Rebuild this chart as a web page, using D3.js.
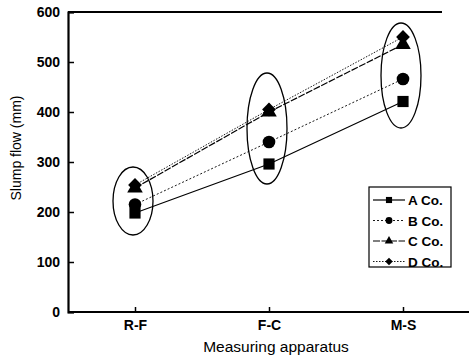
<!DOCTYPE html>
<html><head><meta charset="utf-8">
<script src="https://cdn.jsdelivr.net/npm/d3@7"></script>
<style>body{margin:0;background:#fff}svg{display:block}text{font-family:"Liberation Sans",Arial,sans-serif;fill:#000}</style>
</head><body><svg id="c" width="469" height="357"></svg>
<script>
const categories = ["R-F", "F-C", "M-S"];
const seriesNames = ["A Co.", "B Co.", "C Co.", "D Co."];
const valuesA = [198, 296, 421];
const valuesB = [215, 340, 466];
const valuesC = [248, 400, 535];
const valuesD = [254, 405, 550];
const yTicks = [0, 100, 200, 300, 400, 500, 600];
// ellipse extents (data units) enclosing each group
const groupLow = [154, 256, 368];
const groupHigh = [290, 478, 578];

const svg = d3.select("#c");
const x = d3.scalePoint().domain(categories).range([68, 470]).padding(0.5);
const y = d3.scaleLinear().domain([0, 600]).range([312, 12]);

const diamond = {draw(ctx, size) { const r = Math.sqrt(size / 2); ctx.moveTo(0, -r); ctx.lineTo(r, 0); ctx.lineTo(0, r); ctx.lineTo(-r, 0); ctx.closePath(); }};
const series = [
  {name: seriesNames[0], vals: valuesA, sym: d3.symbolSquare, size: 125, dash: null, w: 1.2},
  {name: seriesNames[1], vals: valuesB, sym: d3.symbolCircle, size: 125, dash: "2,2", w: 0.9},
  {name: seriesNames[2], vals: valuesC, sym: d3.symbolTriangle, size: 105, dash: "7,1.5", w: 1.2},
  {name: seriesNames[3], vals: valuesD, sym: diamond, size: 95, dash: "1.5,1.5", w: 0.9}
];

// frame
svg.append("line").attr("x1", 68).attr("x2", 442).attr("y1", y(600)).attr("y2", y(600)).attr("stroke", "#000").attr("stroke-width", 2);
const ya = svg.append("g").attr("transform", "translate(68,0)")
  .call(d3.axisLeft(y).tickValues(yTicks).tickSize(-6).tickPadding(8));
ya.select(".domain").attr("stroke-width", 2.2);
ya.selectAll(".tick line").attr("stroke-width", 1.5);
ya.selectAll(".tick text").attr("font-size", 14).attr("font-weight", "bold").attr("font-family", "Liberation Sans, Arial");
const xa = svg.append("g").attr("transform", "translate(0,312)")
  .call(d3.axisBottom(x).tickSize(-5).tickPadding(8));
xa.select(".domain").attr("d", "M68,0H469").attr("stroke-width", 2.2);
xa.selectAll(".tick line").attr("stroke-width", 1.5);
xa.selectAll(".tick text").attr("font-size", 14).attr("font-weight", "bold").attr("font-family", "Liberation Sans, Arial");

svg.append("text").attr("transform", "translate(21,148) rotate(-90)").attr("text-anchor", "middle")
  .attr("font-size", 14).text("Slump flow (mm)");
svg.append("text").attr("x", 276).attr("y", 352).attr("text-anchor", "middle")
  .attr("font-size", 15.5).text("Measuring apparatus");

// ellipses
categories.forEach((c, i) => {
  svg.append("ellipse").attr("cx", x(c) - 2).attr("cy", (y(groupLow[i]) + y(groupHigh[i])) / 2)
    .attr("rx", 20).attr("ry", (y(groupLow[i]) - y(groupHigh[i])) / 2)
    .attr("fill", "none").attr("stroke", "#000").attr("stroke-width", 1.3);
});

const line = d3.line().x((d, i) => x(categories[i])).y(d => y(d));
series.forEach(s => {
  svg.append("path").attr("d", line(s.vals)).attr("fill", "none").attr("stroke", "#000")
    .attr("stroke-width", s.w).attr("stroke-dasharray", s.dash);
});
series.forEach(s => {
  s.vals.forEach((v, i) => {
    svg.append("path").attr("d", d3.symbol(s.sym, s.size)())
      .attr("transform", `translate(${x(categories[i])},${y(v)})`).attr("fill", "#000");
  });
});

// legend
const lg = svg.append("g");
lg.append("rect").attr("x", 369).attr("y", 187).attr("width", 82).attr("height", 80)
  .attr("fill", "#fff").attr("stroke", "#000").attr("stroke-width", 1.2);
series.forEach((s, i) => {
  const yy = 200 + i * 20.5;
  lg.append("line").attr("x1", 373).attr("x2", 405).attr("y1", yy).attr("y2", yy)
    .attr("stroke", "#000").attr("stroke-width", s.w).attr("stroke-dasharray", s.dash);
  lg.append("path").attr("d", d3.symbol(s.sym, s.size * 0.3)()).attr("transform", `translate(389,${yy})`);
  lg.append("text").attr("x", 408).attr("y", yy + 5).attr("font-size", 13.5).attr("font-weight", "bold").text(s.name);
});
</script></body></html>
